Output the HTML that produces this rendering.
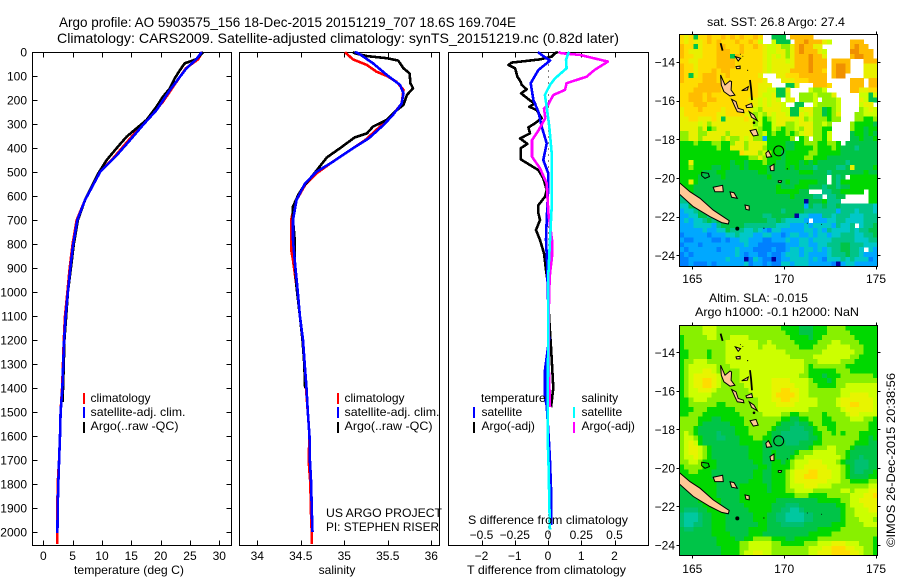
<!DOCTYPE html>
<html lang="en">
<head>
<meta charset="utf-8">
<title>Argo profile 5903575_156</title>
<style>
html,body{margin:0;padding:0;background:#fff;width:900px;height:580px;overflow:hidden}
svg{display:block}
text{font-family:"Liberation Sans",Arial,sans-serif;font-size:12px;fill:#000}
.t14{font-size:14px}
</style>
</head>
<body>
<svg id="chart" xmlns="http://www.w3.org/2000/svg" width="900" height="580" viewBox="0 0 900 580">
  <rect x="0" y="0" width="900" height="580" fill="#fff"/>

  <text class="t14" x="59" y="27" textLength="457" lengthAdjust="spacingAndGlyphs">Argo profile: AO 5903575_156 18-Dec-2015 20151219_707 18.6S 169.704E</text>
  <text class="t14" x="57" y="43" textLength="562" lengthAdjust="spacingAndGlyphs">Climatology: CARS2009. Satellite-adjusted climatology: synTS_20151219.nc (0.82d later)</text>

  <g id="temp-panel"></g>
  <g id="sal-panel"></g>
  <g id="diff-panel"></g>
  <g id="sst-map"></g>
  <g id="sla-map"></g>

  <text x="129" y="574" text-anchor="middle" textLength="110" lengthAdjust="spacingAndGlyphs">temperature (deg C)</text>
  <text x="337" y="574" text-anchor="middle">salinity</text>
  <text x="467" y="574" textLength="159" lengthAdjust="spacingAndGlyphs">T difference from climatology</text>
  <text x="468" y="524" textLength="160" lengthAdjust="spacingAndGlyphs">S difference from climatology</text>

  <g>
    <rect x="83" y="393" width="2" height="11" fill="#ff0000"/>
    <rect x="83" y="407" width="2" height="11" fill="#0000ff"/>
    <rect x="83" y="422" width="2" height="11" fill="#000"/>
    <text x="90.5" y="402">climatology</text>
    <text x="90.5" y="416" textLength="95" lengthAdjust="spacingAndGlyphs">satellite-adj. clim.</text>
    <text x="90.5" y="430" textLength="88" lengthAdjust="spacingAndGlyphs">Argo(..raw -QC)</text>
  </g>
  <g>
    <rect x="337" y="393" width="2" height="11" fill="#ff0000"/>
    <rect x="337" y="407" width="2" height="11" fill="#0000ff"/>
    <rect x="337" y="422" width="2" height="11" fill="#000"/>
    <text x="344.5" y="402">climatology</text>
    <text x="344.5" y="416" textLength="95" lengthAdjust="spacingAndGlyphs">satellite-adj. clim.</text>
    <text x="344.5" y="430" textLength="88" lengthAdjust="spacingAndGlyphs">Argo(..raw -QC)</text>
  </g>
  <g>
    <text x="481" y="402">temperature</text>
    <rect x="473" y="407" width="2" height="11" fill="#0000ff"/>
    <rect x="473" y="422" width="2" height="11" fill="#000"/>
    <text x="481.5" y="416">satellite</text>
    <text x="481.5" y="430">Argo(-adj)</text>
    <text x="581.5" y="402">salinity</text>
    <rect x="573" y="407" width="2" height="11" fill="#00ffff"/>
    <rect x="573" y="422" width="2" height="11" fill="#ff00ff"/>
    <text x="581.5" y="416">satellite</text>
    <text x="581.5" y="430">Argo(-adj)</text>
  </g>

  <text x="326" y="517" textLength="116" lengthAdjust="spacingAndGlyphs">US ARGO PROJECT</text>
  <text x="326" y="531" textLength="113" lengthAdjust="spacingAndGlyphs">PI: STEPHEN RISER</text>

  <text x="707" y="26" textLength="138" lengthAdjust="spacingAndGlyphs">sat. SST: 26.8 Argo: 27.4</text>
  <text x="709" y="302" textLength="99" lengthAdjust="spacingAndGlyphs">Altim. SLA: -0.015</text>
  <text x="695" y="316" textLength="164" lengthAdjust="spacingAndGlyphs">Argo h1000: -0.1 h2000: NaN</text>
  <text transform="translate(895,547) rotate(-90)" textLength="174" lengthAdjust="spacingAndGlyphs">©IMOS 26-Dec-2015 20:38:56</text>
</svg>

<script>
/* ---------- profile data ---------- */
const depthTicks = [0,100,200,300,400,500,600,700,800,900,1000,1100,1200,1300,1400,1500,1600,1700,1800,1900,2000];
const tempTicks = [0,5,10,15,20,25,30];
const salTicks = [34,34.5,35,35.5,36];
const salTickLabels = ['34','34.5','35','35.5','36'];
const tDiffTicks = [-2,-1,0,1,2];
const tDiffTickLabels = ['\u22122','\u22121','0','1','2'];
const sDiffTicks = [-0.5,-0.25,0,0.25,0.5];
const sDiffTickLabels = ['\u22120.5','\u22120.25','0','0.25','0.5'];

const tempClimDepth = [0,30,68,124,207,269,346,443,499,617,700,800,900,1000,1100,1200,1300,1400,1500,1600,1700,1800,1900,2000,2050];
const tempClimValues = [27.1,26.4,24.3,22.7,20.4,18.2,15.3,11.9,9.7,7.1,5.7,5.0,4.5,4.1,3.7,3.5,3.35,3.2,2.95,2.85,2.7,2.45,2.4,2.35,2.35];
const tempSatDepth = [0,30,68,103,158,242,304,367,431,499,617,700,800,900,1000,1100,1200,1300,1400,1500,1600,1700,1800,1900,2005];
const tempSatValues = [27.0,26.1,24.4,23.3,21.6,19.3,17.0,14.8,12.5,9.7,7.1,5.8,5.1,4.6,4.2,3.8,3.55,3.4,3.25,2.95,2.85,2.7,2.55,2.45,2.4];
const tempArgoDepth = [0,30,47,75,110,151,186,228,283,318,353,401,450,505,617,700,800,900,1000,1100,1200,1300,1400,1458];
const tempArgoValues = [27.3,26.1,24.1,23.3,22.4,21.6,20.4,19.3,17.6,15.9,14.2,12.5,10.8,9.4,7.1,5.9,5.2,4.7,4.2,3.9,3.6,3.5,3.35,3.3];

const salClimDepth = [0,5,31,54,82,100,124,158,214,269,311,367,408,464,506,554,630,700,825,867,1000,1100,1200,1300,1400,1500,1600,1700,1800,1900,2000,2050];
const salClimValues = [35.01,35.02,35.10,35.26,35.37,35.49,35.60,35.68,35.66,35.54,35.41,35.24,35.07,34.84,34.68,34.55,34.43,34.39,34.39,34.41,34.46,34.49,34.525,34.545,34.56,34.58,34.6,34.59,34.61,34.615,34.625,34.625];
const salSatDepth = [0,5,47,96,137,172,214,262,304,360,401,457,499,547,617,700,783,867,978,1100,1200,1300,1400,1500,1600,1700,1800,1900,2000];
const salSatValues = [35.12,35.16,35.33,35.49,35.64,35.68,35.66,35.56,35.45,35.28,35.10,34.87,34.68,34.55,34.45,34.41,34.41,34.43,34.46,34.49,34.525,34.545,34.565,34.58,34.6,34.605,34.62,34.625,34.635];
const salArgoDepth = [0,5,17,26,36,68,89,130,151,179,220,249,283,311,339,356,401,439,485,526,561,596,644,700,783,867,978,1100,1200,1300,1400];
const salArgoValues = [35.1,35.12,35.26,35.49,35.62,35.68,35.75,35.76,35.79,35.72,35.68,35.58,35.49,35.33,35.26,35.12,34.95,34.80,34.70,34.61,34.53,34.47,34.41,34.41,34.43,34.43,34.45,34.49,34.52,34.54,34.55];

const tDiffArgoDepth = [0,5,19,31,44,54,68,103,124,137,156,172,186,207,214,228,242,276,297,314,339,360,383,401,447,471,492,526,575,603,638,672,700,742,783,839,908,978,1100,1250,1400,1480];
const tDiffArgoValues = [0.3,0.21,0.11,-0.24,-1.09,-1.19,-0.99,-0.92,-0.82,-0.79,-0.64,-0.81,-0.69,-0.49,-0.39,-0.56,-0.34,-0.19,-0.39,-0.59,-0.54,-0.84,-0.62,-0.82,-0.82,-0.54,-0.29,-0.14,-0.04,-0.09,-0.29,-0.29,-0.24,-0.36,-0.24,-0.12,-0.06,0.01,0.03,0.1,0.16,0.09];
const tDiffSatDepth = [0,5,17,36,75,130,200,249,311,381,450,506,561,700,783,894,992,1100,1200,1325,1440,1473,1625,1706,1817,1970];
const tDiffSatValues = [-0.3,-0.26,-0.14,0.06,-0.29,-0.52,-0.44,-0.29,-0.19,-0.04,-0.14,0.01,0.01,-0.04,-0.06,-0.02,-0.01,0.02,0.03,-0.09,-0.09,-0.04,0.03,0.06,0.09,0.1];
const sDiffArgoDepth = [0,5,12,40,75,103,130,158,179,221,235,276,325,367,436,485,547,672,783,853,922,985,1100,1300,1480];
const sDiffArgoValues = [0.08,0.10,0.24,0.45,0.35,0.29,0.14,0.128,0.04,0.0,-0.03,-0.02,-0.07,-0.12,-0.12,-0.06,-0.01,0.003,0.03,0.03,0.015,0.01,0.005,0.005,0.015];
const sDiffSatDepth = [0,5,33,68,110,137,179,228,311,422,506,644,783,922,992,1325,1600,1740,1880,1990];
const sDiffSatValues = [0.16,0.153,0.135,0.14,0.053,0.015,-0.023,-0.01,0.01,0.028,0.028,0.028,0.015,0.003,0.003,0,-0.003,0.005,0.01,0.015];

/* ---------- map data ---------- */
const lonTicks = [165,170,175];
const latTicks = [-14,-16,-18,-20,-22,-24];
const latTickLabels = ['\u221214','\u221216','\u221218','\u221220','\u221222','\u221224'];

const sstColors = {y:'#ffdc00',o:'#ffbc00',O:'#f09000',Y:'#e8f000',l:'#ccff00',L:'#90f000',g:'#00d800',G:'#00c448',t:'#00c488',c:'#00c8c8',b:'#00a8ff',B:'#0080ff',n:'#0000a0'};
const slaColors = {y:'#ffdc00',Y:'#e8f400',l:'#ccff00',L:'#88f000',g:'#00d800',G:'#00c448',t:'#00c070',T:'#00c8a0'};

const sstGrid = [
"yYyGyyoyyo yoyoyyoy.. GGG.ooooo. .......... ...",
"yYyYYyoyoy yyoyyoyl.. lGGG.ooOoo oYl....ooo ...",
"oyyGYyyyoo yyyoyyoyYl lYLLYoOooY Y......oOo o..",
"oyYYYyyyoo oyyoyyyyYl lYYLYoOooo Yl.....OOo oo.",
"oyyYYyyyoo oGoyyyyyYl YlYLYoooOo oY.....oOO oo.",
"yyYYyyyyoo ooyyyyyyYl YYYlYoooOo oo.oooo... ooo",
"oyyYyyyyoo ooyyyyyyYl YYYYYoooOo oo.oOOo... YYY",
"oyyYyyyoyo oyyyyyyyYl YYYYooooOo oy.oOOo... YYY",
"oyGYyoooyy oyyyyyyY.. .YYyyyoooo oo.oOO.... YYY",
"oyyyyoooyy yyyyyyyyY. ..YYYyyyoo oo.....ooo .oo",
"yyyyoooooy yyyyyyyYYY ...GGY...o ooy....ooo .oo",
"yyyooooooy yyyyyyyYYl lGGY....lL Ll.....ooY Yyy",
"yyoooyoyyy yyyyyyyYll YGGl..LLLl LLLY.....l lGl",
"yyoooyooyy yyyyyYYlYl Yl.lY.LLLl .LLLl....Y lGG",
"yyyoooyyyy yyyyyyYlYl YYl..GG..l LLLLl....l YY.",
"YyyyoyyyyY yyyyyYlLYY YYllGGlYYL LGgLl....L lYl",
"YyyyyyyyYY yyyyYlLlLY lYYlGGYlYL LGgLY...LL lll",
"YYyyYYYyYG YYYYyYLlgL lYYYYlYLlL LLgLL...LL ggL",
"YYYYlYLYYY YYYYYYLlgg lYYLLlYYYL LlL....Lgg ggG",
"YYYYLYgLYY YYYYYYlLgg lLgLLlLYYL Lgg....Lgg Ggg",
"LLYYLLYYYY LYYYYYLLlg LggLgLlYYL Lgl....Ggg GgG",
"LLYYLYYYYL YLLYlYLLbg ggggL.gL.L Lgl....GGg GGg",
"gggLgggLLg gLYYLYYYlg gggGGggLLL ggLLg.GGGG GGG",
"ggggggggLg gYYYLYYYLg gggGGggggL gggLgGGGtG GGG",
"gggggggggg gggyYYYLlL ggGgggggLL gggggGGGGG GGG",
"gggggggggg gggggLLYLg ggGggggLLg ggGGGGGGGG GGG",
"ggYggggggg gGggGgggLg gGGgggGgGg GGGGGGtGGG GGG",
"ggLggggGGg gGGgGggggG GGGgGgGGGt GGGGttGYGG GGg",
"gggggGGGgg GGGGGGGggG GGGGGGgggG GGtGGGGGGG gGG",
"ggggGGGGGg GGGGGGGGGg GGGGGGGGGG GG.GtG.ggg ggg",
"ggYgGGGGGG GGGGGGGGGG GGGgGGgggg GG.Gtggggg ggg",
"gggGGGGGGG GGGGGGGGGG GgGGGgggGG GtGGtGGggg ggg",
"gggGGGGGGG GGGGGGGGGG GgggggGG.. .ttGGggggg .gg",
"tggGGGGGGG GGGGGGGGGG GGGGgGGGGt t.ttGG.... .gg",
"ttGGGGGGGG GGGGGGGGGG GGGGGGGnGG Ggttt..... .gg",
"ccGGGGGGGG GGGGGGGGGG GGGGGGGbGt tGttGttttt ttc",
"bcctGGGGGG GGGGGGGGGG GGtGGGGttt ttttbtttct ttc",
"bbccGGtGGG GGGGGGGGtt GGGGGnccbb bttctttccc ttt",
"bcbcctGtGG GGGGGGGGGt tGtccccb.b bbccttcccc ttt",
"bbbccccbtG GGGGtttttt tcccbbbcbc cccbtcct.c ttG",
"bbbbbcbbcc GtttcctcbB ccbbbbbccb cbtcccctct tGG",
"BbbbbbBbbb cctcccbbcc bbBbccbbcb ccbcctttcc ttG",
"bBBbbbbBBb BbbccbbbBB bbbcbbccbc ccctttttcc ctt",
"BbbbBbbbbb bbbbcbbBBB BBBbbbccbb cctttGGttt ccc",
"bBbbbbbbBb bbcbbbBBBB bBBbccbccb cbcttGGttc .cb",
"BbBbbbbbbb bbcbBbbBBb BBbcccbcbb bbctttGttc bbb",
"BBbbbbbbbb cbbbnBcbBB nBbbccccbc bBccctctcc cBb",
"BBbBBBbBbb bbbbcBbbBb BBccbcccbb bbbBnbccbb bbb"
];

const slaGrid = [
"LLLLLlllLL LLLLLLLLLL LLggggGGGg ggLLLLgggg ggg",
"LLLLLlllLL LLLLLLLLLL LLLgggGGGg ggLLLLLggg ggg",
"gLLLLLllLL LllllLLLLL LLLLggggGg gLLLLLLLgg ggg",
"gLLLLLLLLL lllllllLLl LLLLLggggg LLLllLLLLg ggg",
"gLLLLLLLLL lllllllLll lLLLLLgggL LLlllllLLL ggg",
"ggLLLLgLLL llllllllll lllLLLLLLL LlllllllLL ggg",
"ggLLLLgLLL llllllllll llllLLLLLl lllllllLLg ggg",
"gLLlllLLLL llllllllll lllllllLLL lllllLLLgg ggg",
"gLllllllLL Llllllllll lllllllLgL LLLLLLgggg ggg",
"gLlllYYlLL LLLlllllll lllllllLgg ggggLLLggg ggg",
"gLlYYYYYlL LLLlllllll llllllLLgg gGgggLLLLL LLg",
"gLlYYyyYlL LLLlllllll YYYYllllLg ggGgLLLLLL LLL",
"gLlYYyyYlL LLLLllllll YYYYYlllLL ggggLLllll lll",
"gLllYYYlLL LLLLLlllll YYyyYYllLL LLLLLlllll lll",
"gLlllllLLL LLLLLLllll YyyyyYllLL LLLLLllYYY Yll",
"ggLlllLLLL LLLLLLLlll YYyyYYllll LLLLlYYYYY YYl",
"ggLLLLLLgg LLLLLLLlll lYYYYlllll LLLLlYYyyY YYl",
"gggLLLgggg ggLLLLLlll llllllllLL LLLLLlYYYY YYl",
"ggLLLggggg gggLLLLLll llLLggLLLL LgLLLLlYYl lll",
"LLLLgggGGg ggggLLLLLL LLggGGggLL LggLLLLlll LLg",
"LLLLgGGGGG GgggLLLLLL LgGGGtGGgL LgggLLLLLL Lgg",
"LLLgGGGGGG GGgggLLLLL gGGGtttGGg LLggLLLLLL Lgg",
"LlLgGGGGtG GGgggLLLLg GGttttttGg gLLgLgLLLg ggg",
"LllLgGGGtt GGGgggLLgg GGttttttGG gLLLLLLLLg gGg",
"LlYlgGGGGG GGGgggggGg GGGtttGGGg gLLLLLLLgg gGG",
"LlYYlLgGGG GGGGGgggGG GGGGGGGGgL LLllLLLgGG GGG",
"LlYYlLgGGG GGGGGgggGG gGGGGgLLLl llllLLgGGG GGG",
"LllYlLgGGG GGGGGgggGG gGGGgLLlll lllllLgGGt GGG",
"LLllLgggGG GGGGGGggGG ggGgLlllYY YlllLgGGtt tGG",
"gLLLLgggGG GGGGGGGggG ggggLllYYY YYlllLgGtt tGG",
"ggLLgggGGG GGGGGGggGG gggLlYYYyy YYYllLgGtt GGg",
"gggggggGGG GGGGGGggGG gggLlYYyyy YYYllLgGGG Ggg",
"ggggggggGG GGGGGgggGG gggLlYYYYY YYlllLLggg gLL",
"GgggggggGG GGGggggggG gggLlllYYY lllLLLLLLL Lll",
"GGggggggGG GGGggggggG gggLLllllL LLLLLllLll lYY",
"GGGgggggGG GGGggggggg gggggLLLgg ggLLLLLlll YYy",
"GGGGgggggG GGGggggggg gGGGGGGGGG gggggLLllY YYY",
"GGGGGggggG GGGGgggggg GGGtttGGGG GGGGggLlll YYY",
"GtttGGgggg GGGGGggggg GGttTTtGGG GGGGGgLLll lYY",
"tTTTtGGggg GGGGGGgggG GttTTTTttG GGGGGgLLll lll",
"tTTTtGGggg GGGGGGgggG GttTTTTttG GGGGGgLLLl llL",
"tTTttGGggg GGGGGGGggG GGtttttGGG GGGgggLLLL lll",
"GttGGGGggg GGGGGggggG GGGGGGGGGG gggggLLLLL LLL",
"GGGGGGGggg gGGGGgggGG GGGGGGGGgg gggLLLLLLL LLL",
"GGGGGGGGgg ggGGggLLLL gggGGggggg LLLLLLLLLL LLg",
"GGGGGGGGgg gggLLlllll LLgggggLLL lllYYYlllL LLg",
"GGGGGGGGGg gggLLlllll LLLLLLLLll lYYyyyYYll LLg",
"GGGGGGGGGg gggLllYYll LLLLLLLLll YYYyyyyYYl LLg"
];

const coastLand = [
 [[164.29,-20.24],[164.87,-20.71],[165.42,-21.05],[166.14,-21.66],[167.01,-22.21],[166.96,-22.38],[166.6,-22.31],[165.96,-22.0],[165.05,-21.48],[164.29,-20.83]],
 [[166.54,-14.67],[166.78,-15.19],[167.05,-14.97],[167.14,-15.02],[167.11,-15.45],[167.32,-15.71],[167.05,-15.76],[166.72,-15.53],[166.58,-15.19]],
 [[167.14,-15.93],[167.38,-16.05],[167.5,-16.4],[167.78,-16.48],[167.81,-16.62],[167.45,-16.57],[167.32,-16.31]],
 [[168.14,-17.55],[168.47,-17.48],[168.59,-17.78],[168.32,-17.83]],
 [[169.0,-18.72],[169.14,-18.59],[169.32,-18.9],[169.05,-18.93]],
 [[169.23,-19.41],[169.45,-19.28],[169.45,-19.62],[169.27,-19.62]],
 [[169.68,-20.14],[169.86,-20.14],[169.83,-20.24],[169.68,-20.22]],
 [[166.14,-20.48],[166.65,-20.38],[166.69,-20.71],[166.23,-20.71]],
 [[167.05,-20.72],[167.27,-20.76],[167.45,-21.05],[167.14,-21.0]],
 [[167.87,-21.4],[168.1,-21.45],[168.1,-21.66],[167.92,-21.62]],
 [[167.69,-15.48],[168.05,-15.28],[168.0,-15.45]],
 [[167.92,-16.26],[168.23,-16.14],[168.28,-16.34],[167.96,-16.36]],
 [[168.1,-16.57],[168.36,-16.74],[168.54,-17.03],[168.23,-16.86]],
 [[167.38,-14.24],[167.6,-14.21],[167.6,-14.34],[167.41,-14.34]],
 [[167.34,-13.72],[167.63,-13.81],[167.5,-13.95]]
];
const coastOutline = [
 [[165.51,-19.71],[165.87,-19.76],[165.93,-19.93],[165.69,-20.02],[165.51,-19.88]]
];
const coastLines = [
 [[168.14,-14.93],[168.2,-15.4],[168.25,-15.97]],
 [[166.54,-13.03],[166.65,-13.41]]
];
const coastDotsLon = [168.01,167.45,168.9,170.17,171.26,172.04,168.36,167.62,167.75];
const coastDotsLat = [-14.43,-22.62,-22.6,-19.53,-22.34,-22.4,-17.14,-13.6,-13.7];
const coastDotsRadius = [0.6,2,0.6,0.6,0.5,0.5,1.3,0.5,0.5];
const floatLon = 169.704;
const floatLat = -18.6;

/* ---------- helpers ---------- */
const NS = 'http://www.w3.org/2000/svg';
function mk(parent, tag, attrs, txt){
  const e = document.createElementNS(NS, tag);
  for (const k in attrs) e.setAttribute(k, attrs[k]);
  if (txt !== undefined) e.textContent = txt;
  parent.appendChild(e);
  return e;
}
const yOfDepth = d => 52 + d * 0.24;
const PANEL_TOP = 52.5, PANEL_BOTTOM = 545.5, TICK = 5;
const xTemp = t => 43.3 + t * 5.867;
const xSal = s => 257.3 + (s - 34) * 87;
const xTDiff = t => 548 + t * 33.25;
const xSDiff = s => 548 + s * 133;

function frame(g, left, right){
  const el = mk(g, 'rect', {x:left, y:PANEL_TOP, width:right-left, height:PANEL_BOTTOM-PANEL_TOP, fill:'none', stroke:'#000', 'stroke-width':1, 'shape-rendering':'crispEdges'});
  
  
}
function xTicks(g, ticks, labels, scale, baseline, showBottomTop){
  ticks.forEach((t, i) => {
    const x = Math.round(scale(t)) + 0.5;
    if (showBottomTop) {
      const a = mk(g, 'line', {x1:x, x2:x, y1:PANEL_TOP, y2:PANEL_TOP+TICK, stroke:'#000', 'shape-rendering':'crispEdges'});
      
      
      const b = mk(g, 'line', {x1:x, x2:x, y1:PANEL_BOTTOM-TICK, y2:PANEL_BOTTOM, stroke:'#000', 'shape-rendering':'crispEdges'});
      
      
    }
    const l = mk(g, 'text', {x:scale(t), y:baseline, 'text-anchor':'middle'}, labels[i]);
    
    
  });
}
function profile(g, depth, values, scale, color, name){
  const pts = depth.map((d, i) => scale(values[i]).toFixed(1) + ',' + yOfDepth(d).toFixed(1)).join(' ');
  const el = mk(g, 'polyline', {points:pts, fill:'none', stroke:color, 'stroke-width':2.6, 'stroke-linejoin':'round', 'shape-rendering':'crispEdges'});
  
  
}

/* ---------- temperature panel ---------- */
const gTemp = document.getElementById('temp-panel');
frame(gTemp, 32.5, 231.5);
depthTicks.forEach(d => {
  const y = Math.round(yOfDepth(d)) + 0.5;
  const a = mk(gTemp, 'line', {x1:32.5, x2:37.5, y1:y, y2:y, stroke:'#000', 'shape-rendering':'crispEdges'});
  
  
  const b = mk(gTemp, 'line', {x1:226.5, x2:231.5, y1:y, y2:y, stroke:'#000', 'shape-rendering':'crispEdges'});
  
  
  const l = mk(gTemp, 'text', {x:27, y:yOfDepth(d)+4.5, 'text-anchor':'end'}, String(d));
  
  
});
xTicks(gTemp, tempTicks, tempTicks.map(String), xTemp, 560, true);
profile(gTemp, tempClimDepth, tempClimValues, xTemp, '#ff0000', 'temperature-climatology-line');
profile(gTemp, tempArgoDepth, tempArgoValues, xTemp, '#000000', 'temperature-argo-line');
profile(gTemp, tempSatDepth, tempSatValues, xTemp, '#0000ff', 'temperature-satellite-line');

/* ---------- salinity panel ---------- */
const gSal = document.getElementById('sal-panel');
frame(gSal, 239.5, 439.5);
xTicks(gSal, salTicks, salTickLabels, xSal, 560, true);
profile(gSal, salClimDepth, salClimValues, xSal, '#ff0000', 'salinity-climatology-line');
profile(gSal, salArgoDepth, salArgoValues, xSal, '#000000', 'salinity-argo-line');
profile(gSal, salSatDepth, salSatValues, xSal, '#0000ff', 'salinity-satellite-line');

/* ---------- difference panel ---------- */
const gDiff = document.getElementById('diff-panel');
frame(gDiff, 448.5, 648.5);
const zeroLine = mk(gDiff, 'line', {x1:548.5, x2:548.5, y1:PANEL_TOP, y2:PANEL_BOTTOM, stroke:'#000', 'stroke-dasharray':'1 5', 'shape-rendering':'crispEdges'});


xTicks(gDiff, tDiffTicks, tDiffTickLabels, xTDiff, 560, true);
xTicks(gDiff, sDiffTicks, sDiffTickLabels, xSDiff, 539, false);
profile(gDiff, tDiffArgoDepth, tDiffArgoValues, xTDiff, '#000000', 't-difference-argo-line');
profile(gDiff, tDiffSatDepth, tDiffSatValues, xTDiff, '#0000ff', 't-difference-satellite-line');
profile(gDiff, sDiffArgoDepth, sDiffArgoValues, xSDiff, '#ff00ff', 's-difference-argo-line');
profile(gDiff, sDiffSatDepth, sDiffSatValues, xSDiff, '#00ffff', 's-difference-satellite-line');

/* ---------- maps ---------- */
function drawMap(g, grid, colors, box, clipId){
  const xLon = lon => 692.3 + (lon - 165) * 18.37;
  const yLat = lat => box.lat14 + (-14 - lat) * box.pxPerDeg;
  const cw = (box.right - box.left) / 43;
  const ch = (box.bottom - box.top) / 48;

  const defs = mk(g, 'defs', {});
  const cp = mk(defs, 'clipPath', {id:clipId});
  mk(cp, 'rect', {x:box.left, y:box.top, width:box.right-box.left, height:box.bottom-box.top});

  const cells = mk(g, 'g', {'clip-path':'url(#'+clipId+')', 'shape-rendering':'crispEdges'});
  
  
  grid.forEach((rowText, r) => {
    const row = rowText.replace(/ /g, '');
    for (let c = 0; c < row.length; c++) {
      const col = colors[row[c]];
      if (!col) continue;
      const cell = mk(cells, 'rect', {x:(box.left+c*cw).toFixed(2), y:(box.top+r*ch).toFixed(2), width:(cw+0.4).toFixed(2), height:(ch+0.4).toFixed(2), fill:col});
      
      
    }
  });

  const coast = mk(g, 'g', {'clip-path':'url(#'+clipId+')'});
  
  
  const toPts = poly => poly.map(p => xLon(p[0]).toFixed(1) + ',' + yLat(p[1]).toFixed(1)).join(' ');
  coastLand.forEach(poly => {
    const el = mk(coast, 'polygon', {points:toPts(poly), fill:'#ffc896', stroke:'#000', 'stroke-width':1});
    
    
  });
  coastOutline.forEach(poly => {
    const el = mk(coast, 'polygon', {points:toPts(poly), fill:'none', stroke:'#000', 'stroke-width':1});
    
    
  });
  coastLines.forEach(poly => {
    const el = mk(coast, 'polyline', {points:toPts(poly), fill:'none', stroke:'#000', 'stroke-width':1.8});
    
    
  });
  coastDotsLon.forEach((lon, i) => {
    const el = mk(coast, 'circle', {cx:xLon(lon).toFixed(1), cy:yLat(coastDotsLat[i]).toFixed(1), r:coastDotsRadius[i], fill:'#000'});
    
    
  });

  const marker = mk(g, 'circle', {cx:xLon(floatLon).toFixed(1), cy:yLat(floatLat).toFixed(1), r:5, fill:'none', stroke:'#000', 'stroke-width':1});
  
  

  const fr = mk(g, 'rect', {x:box.left, y:box.top, width:box.right-box.left, height:box.bottom-box.top, fill:'none', stroke:'#000', 'stroke-width':1, 'shape-rendering':'crispEdges'});
  
  

  lonTicks.forEach(lon => {
    const x = Math.round(xLon(lon)) + 0.5;
    const a = mk(g, 'line', {x1:x, x2:x, y1:box.top-3, y2:box.top, stroke:'#000', 'shape-rendering':'crispEdges'});
    
    
    const b = mk(g, 'line', {x1:x, x2:x, y1:box.bottom, y2:box.bottom+3, stroke:'#000', 'shape-rendering':'crispEdges'});
    
    
    const l = mk(g, 'text', {x:xLon(lon), y:box.lonBaseline, 'text-anchor':'middle'}, String(lon));
    
    
  });
  latTicks.forEach((lat, i) => {
    const y = Math.round(yLat(lat)) + 0.5;
    const a = mk(g, 'line', {x1:box.left-3, x2:box.left, y1:y, y2:y, stroke:'#000', 'shape-rendering':'crispEdges'});
    
    
    const b = mk(g, 'line', {x1:box.right, x2:box.right+3, y1:y, y2:y, stroke:'#000', 'shape-rendering':'crispEdges'});
    
    
    const l = mk(g, 'text', {x:675, y:yLat(lat)+4.5, 'text-anchor':'end'}, latTickLabels[i]);
    
    
  });
}

drawMap(document.getElementById('sst-map'), sstGrid, sstColors,
  {left:679.5, right:877.5, top:34.5, bottom:266.5, lat14:62, pxPerDeg:19.33, lonBaseline:283}, 'sst-clip');
drawMap(document.getElementById('sla-map'), slaGrid, slaColors,
  {left:679.5, right:877.5, top:325.5, bottom:555.5, lat14:352.3, pxPerDeg:19.27, lonBaseline:573}, 'sla-clip');
</script>
</body>
</html>
